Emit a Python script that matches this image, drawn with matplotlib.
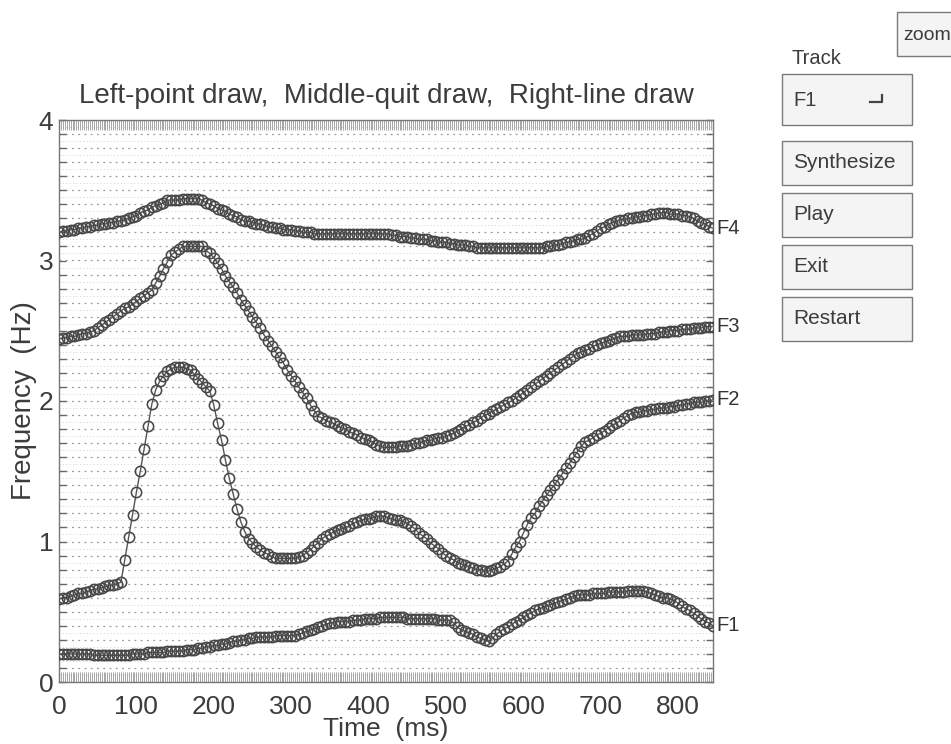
import numpy as np
import matplotlib
matplotlib.use("Agg")
import matplotlib.pyplot as plt
from matplotlib.patches import Rectangle
from matplotlib.lines import Line2D

plt.rcParams['font.family'] = ['Liberation Sans', 'DejaVu Sans']

# frame times (ms), one sample every 5 ms
time_ms = np.arange(0, 850, 5)

# formant tracks (kHz shown as "Hz" on the axis)
f1 = [0.20, 0.20, 0.20, 0.20, 0.20, 0.20, 0.20, 0.20, 0.20, 0.19,
      0.19, 0.19, 0.19, 0.19, 0.19, 0.19, 0.19, 0.19, 0.19, 0.20,
      0.20, 0.20, 0.20, 0.21, 0.21, 0.21, 0.21, 0.21, 0.22, 0.22,
      0.22, 0.22, 0.22, 0.23, 0.23, 0.23, 0.24, 0.24, 0.25, 0.25,
      0.26, 0.26, 0.27, 0.27, 0.28, 0.29, 0.29, 0.30, 0.30, 0.31,
      0.31, 0.32, 0.32, 0.32, 0.32, 0.32, 0.33, 0.33, 0.33, 0.33,
      0.33, 0.33, 0.34, 0.35, 0.36, 0.37, 0.38, 0.39, 0.40, 0.41,
      0.42, 0.42, 0.43, 0.43, 0.43, 0.43, 0.44, 0.44, 0.44, 0.45,
      0.45, 0.45, 0.45, 0.46, 0.46, 0.46, 0.46, 0.46, 0.46, 0.46,
      0.45, 0.45, 0.45, 0.45, 0.45, 0.45, 0.45, 0.45, 0.44, 0.44,
      0.44, 0.44, 0.42, 0.39, 0.37, 0.36, 0.35, 0.34, 0.32, 0.31,
      0.30, 0.29, 0.31, 0.34, 0.36, 0.38, 0.39, 0.41, 0.43, 0.44,
      0.46, 0.48, 0.49, 0.51, 0.52, 0.53, 0.54, 0.55, 0.56, 0.57,
      0.58, 0.59, 0.60, 0.61, 0.62, 0.62, 0.62, 0.62, 0.63, 0.63,
      0.63, 0.63, 0.64, 0.64, 0.64, 0.64, 0.64, 0.65, 0.65, 0.65,
      0.65, 0.65, 0.64, 0.63, 0.62, 0.61, 0.60, 0.60, 0.59, 0.58,
      0.56, 0.54, 0.52, 0.51, 0.49, 0.47, 0.45, 0.43, 0.42, 0.40]

f2 = [0.59, 0.60, 0.60, 0.61, 0.62, 0.63, 0.63, 0.64, 0.65, 0.66,
      0.66, 0.67, 0.68, 0.69, 0.69, 0.70, 0.71, 0.87, 1.03, 1.19,
      1.35, 1.50, 1.66, 1.82, 1.98, 2.08, 2.14, 2.18, 2.21, 2.23,
      2.24, 2.24, 2.24, 2.23, 2.22, 2.19, 2.16, 2.13, 2.10, 2.07,
      1.97, 1.84, 1.72, 1.58, 1.45, 1.34, 1.23, 1.14, 1.07, 1.02,
      0.99, 0.96, 0.94, 0.92, 0.91, 0.89, 0.88, 0.88, 0.88, 0.88,
      0.88, 0.88, 0.89, 0.90, 0.92, 0.94, 0.97, 0.99, 1.02, 1.04,
      1.05, 1.07, 1.08, 1.09, 1.10, 1.11, 1.13, 1.14, 1.15, 1.16,
      1.16, 1.17, 1.18, 1.18, 1.18, 1.17, 1.16, 1.15, 1.15, 1.14,
      1.13, 1.11, 1.09, 1.06, 1.04, 1.02, 0.99, 0.97, 0.95, 0.92,
      0.90, 0.88, 0.87, 0.85, 0.84, 0.83, 0.82, 0.81, 0.80, 0.80,
      0.79, 0.79, 0.80, 0.81, 0.82, 0.84, 0.86, 0.91, 0.96, 1.00,
      1.06, 1.12, 1.17, 1.20, 1.25, 1.29, 1.33, 1.37, 1.40, 1.44,
      1.48, 1.52, 1.56, 1.60, 1.64, 1.68, 1.71, 1.72, 1.74, 1.76,
      1.77, 1.79, 1.81, 1.83, 1.84, 1.86, 1.88, 1.90, 1.91, 1.92,
      1.92, 1.93, 1.93, 1.94, 1.94, 1.95, 1.95, 1.95, 1.96, 1.96,
      1.97, 1.97, 1.98, 1.98, 1.99, 1.99, 1.99, 2.00, 2.00, 2.01]

f3 = [2.44, 2.45, 2.45, 2.46, 2.46, 2.47, 2.48, 2.48, 2.49, 2.50,
      2.52, 2.54, 2.56, 2.58, 2.60, 2.62, 2.64, 2.66, 2.67, 2.69,
      2.71, 2.73, 2.75, 2.77, 2.79, 2.84, 2.89, 2.94, 2.99, 3.04,
      3.06, 3.08, 3.10, 3.10, 3.10, 3.10, 3.10, 3.10, 3.07, 3.05,
      3.02, 2.98, 2.94, 2.89, 2.85, 2.81, 2.77, 2.72, 2.68, 2.64,
      2.60, 2.56, 2.52, 2.47, 2.43, 2.39, 2.35, 2.31, 2.27, 2.22,
      2.18, 2.14, 2.10, 2.06, 2.02, 1.97, 1.93, 1.89, 1.88, 1.86,
      1.85, 1.84, 1.82, 1.81, 1.80, 1.78, 1.77, 1.76, 1.74, 1.73,
      1.72, 1.71, 1.69, 1.68, 1.67, 1.67, 1.67, 1.67, 1.68, 1.68,
      1.68, 1.69, 1.70, 1.70, 1.71, 1.72, 1.72, 1.73, 1.74, 1.74,
      1.75, 1.76, 1.77, 1.79, 1.80, 1.82, 1.83, 1.85, 1.86, 1.88,
      1.90, 1.91, 1.93, 1.94, 1.96, 1.97, 1.99, 2.00, 2.02, 2.04,
      2.06, 2.08, 2.10, 2.12, 2.14, 2.16, 2.18, 2.20, 2.22, 2.24,
      2.26, 2.28, 2.30, 2.32, 2.34, 2.35, 2.36, 2.37, 2.39, 2.40,
      2.41, 2.42, 2.43, 2.44, 2.45, 2.46, 2.46, 2.46, 2.47, 2.47,
      2.47, 2.47, 2.48, 2.48, 2.48, 2.49, 2.49, 2.49, 2.50, 2.50,
      2.50, 2.51, 2.51, 2.51, 2.52, 2.52, 2.52, 2.53, 2.53, 2.53]

f4 = [3.20, 3.21, 3.21, 3.22, 3.22, 3.23, 3.23, 3.24, 3.24, 3.25,
      3.25, 3.26, 3.26, 3.27, 3.27, 3.28, 3.28, 3.29, 3.30, 3.31,
      3.32, 3.34, 3.35, 3.36, 3.38, 3.39, 3.40, 3.41, 3.43, 3.43,
      3.43, 3.43, 3.44, 3.44, 3.44, 3.44, 3.44, 3.43, 3.41, 3.40,
      3.39, 3.37, 3.36, 3.35, 3.33, 3.32, 3.31, 3.29, 3.28, 3.28,
      3.27, 3.26, 3.26, 3.25, 3.24, 3.24, 3.23, 3.23, 3.22, 3.22,
      3.22, 3.21, 3.21, 3.20, 3.20, 3.20, 3.19, 3.19, 3.19, 3.19,
      3.19, 3.19, 3.19, 3.19, 3.19, 3.19, 3.19, 3.19, 3.19, 3.19,
      3.19, 3.19, 3.19, 3.19, 3.19, 3.19, 3.18, 3.18, 3.17, 3.17,
      3.17, 3.16, 3.16, 3.15, 3.15, 3.15, 3.14, 3.14, 3.13, 3.13,
      3.13, 3.12, 3.12, 3.11, 3.11, 3.11, 3.10, 3.10, 3.09, 3.09,
      3.09, 3.09, 3.09, 3.09, 3.09, 3.09, 3.09, 3.09, 3.09, 3.09,
      3.09, 3.09, 3.09, 3.09, 3.09, 3.09, 3.10, 3.10, 3.11, 3.11,
      3.12, 3.13, 3.13, 3.14, 3.15, 3.15, 3.16, 3.18, 3.19, 3.21,
      3.23, 3.24, 3.26, 3.27, 3.28, 3.29, 3.29, 3.30, 3.30, 3.31,
      3.31, 3.32, 3.32, 3.33, 3.33, 3.34, 3.34, 3.34, 3.33, 3.33,
      3.33, 3.32, 3.32, 3.31, 3.30, 3.28, 3.27, 3.26, 3.24, 3.23]

tracks = [("F1", f1), ("F2", f2), ("F3", f3), ("F4", f4)]
buttons = ["Synthesize", "Play", "Exit", "Restart"]

W, H = 951, 744
fig = plt.figure(figsize=(W / 100, H / 100), dpi=100)
fig.patch.set_facecolor("white")

# pixel helpers for the GUI bits around the axes
def fx(px):
    return px / W

def fy(py):
    return 1 - py / H

ax = fig.add_axes([fx(59), fy(682), fx(713) - fx(59), fy(120) - fy(682)])

# dotted background grid
for y in np.arange(0.05, 4.0, 0.1):
    ax.axhline(y, color="#d0d0d0", lw=0.7, ls=(0, (1, 2.5)), zorder=0)
for y in np.arange(0.1, 4.0, 0.1):
    ax.axhline(y, color="#9a9a9a", lw=0.9, ls=(0, (1.5, 3.5)), zorder=0)

for name, vals in tracks:
    ax.plot(time_ms, vals, "-o", color="#555555", lw=1.0, ms=7.4,
            mfc="none", mec="#484848", mew=1.15, zorder=3)
    ax.text(849, vals[-1], name, fontsize=14.5, color="#333333",
            va="center", ha="left", clip_on=False)

ax.set_xlim(0, 845)
ax.set_ylim(0, 4)
ax.set_xticks(np.arange(0, 801, 100))
ax.set_yticks([0, 1, 2, 3, 4])
ax.set_xticks(np.arange(0, 846, 2.5), minor=True)
ax.set_yticks(np.arange(0, 4.01, 0.1), minor=True)
ax.tick_params(axis="x", which="both", direction="in", top=True, bottom=True,
               length=7, width=0.6, color="#999999")
ax.tick_params(axis="y", which="both", direction="in", left=True, right=True,
               length=5, width=1.0, color="#666666")
ax.tick_params(axis="x", which="major", labelsize=19, pad=9, labelcolor="#3c3c3c")
ax.tick_params(axis="y", which="major", labelsize=19, pad=4, labelcolor="#3c3c3c")
for sp in ax.spines.values():
    sp.set_color("#777777")
    sp.set_linewidth(1.0)

ax.set_xlabel("Time  (ms)", fontsize=19, color="#3c3c3c", labelpad=-1)
ax.set_ylabel("Frequency  (Hz)", fontsize=20, color="#3c3c3c")
ax.yaxis.set_label_coords(-0.034, 0.5)
ax.set_title("Left-point draw,  Middle-quit draw,  Right-line draw",
             fontsize=20, color="#3c3c3c", pad=12)

# right-hand control panel
def box(x0, y0, x1, y1):
    fig.patches.append(Rectangle((fx(x0), fy(y1)), fx(x1) - fx(x0), fy(y0) - fy(y1),
                                 transform=fig.transFigure, facecolor="#f4f4f4",
                                 edgecolor="#7a7a7a", lw=1.0))

box(897, 12, 960, 56)
fig.text(fx(903), fy(35), "zoom", fontsize=14, color="#3c3c3c", va="center")
fig.text(fx(791), fy(58), "Track", fontsize=14.5, color="#3c3c3c", va="center")

box(782, 74, 912, 125)
fig.text(fx(793), fy(100), "F1", fontsize=14.5, color="#3c3c3c", va="center")
fig.lines.append(Line2D([fx(870), fx(882), fx(882)], [fy(102), fy(102), fy(95)],
                        transform=fig.transFigure, color="#444444", lw=1.6))

btn_top = [141, 193, 245, 297]
for label, top in zip(buttons, btn_top):
    box(782, top, 912, top + 44)
    fig.text(fx(793), fy(top + 22), label, fontsize=15, color="#3c3c3c", va="center")

fig.savefig("out.png", dpi=100)
